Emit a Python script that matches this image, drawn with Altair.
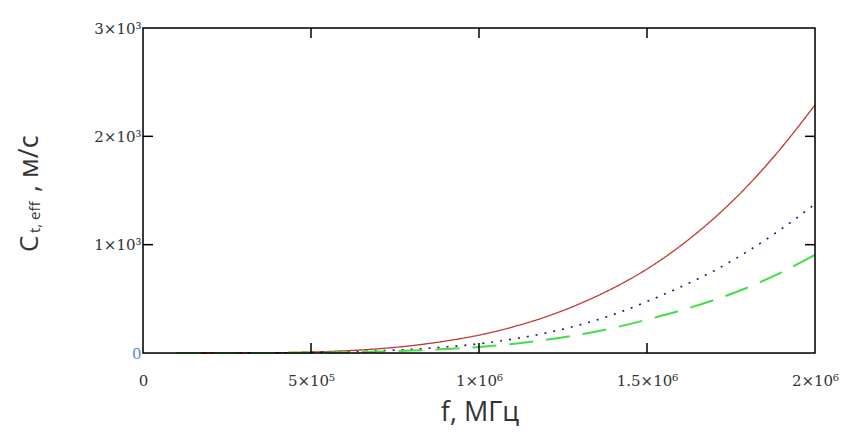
import altair as alt
import pandas as pd

# frequency, Hz
freq = [1e5, 2e5, 3e5, 4e5, 5e5, 6e5, 7e5, 8e5, 9e5, 1.0e6,
        1.1e6, 1.2e6, 1.3e6, 1.4e6, 1.5e6, 1.6e6, 1.7e6, 1.8e6, 1.9e6, 2.0e6]
# C_t,eff, m/s
red_solid = [0, 0.1, 0.8, 3, 9, 20, 39, 68, 110, 165,
             240, 335, 455, 600, 775, 990, 1245, 1545, 1895, 2290]
blue_dotted = [0, 0.05, 0.4, 1.5, 4.5, 10, 20, 34, 56, 85,
               128, 185, 260, 355, 475, 610, 760, 940, 1145, 1375]
green_dashed = [0, 0.03, 0.25, 1, 3, 6.5, 13, 22, 36, 55,
                84, 122, 170, 232, 308, 392, 490, 605, 745, 905]

series_names = ["red", "blue", "green"]
series_colors = ["#c0392f", "#1c1c8c", "#44dd44"]

x_ticks = [0, 5e5, 1e6, 1.5e6, 2e6]
x_tick_labels = ["0", "5×10⁵", "1×10⁶", "1.5×10⁶", "2×10⁶"]
y_ticks = [0, 1000, 2000, 3000]
y_tick_labels = ["0", "1×10³", "2×10³", "3×10³"]
inner_x = [5e5, 1e6, 1.5e6]
inner_y = [1000, 2000]

W, H = 672, 325
TICK_PX = 10

rows = []
for name, vals in zip(series_names, [red_solid, blue_dotted, green_dashed]):
    for f, v in zip(freq, vals):
        rows.append({"f": f, "c": v, "s": name})
df = pd.DataFrame(rows)


def label_expr(ticks, labels):
    expr = "''"
    for t, l in reversed(list(zip(ticks, labels))):
        expr = f"(abs(datum.value - {t:.0f}) < 1e-6 ? '{l}' : {expr})"
    return expr


xscale = alt.Scale(domain=[0, 2e6], nice=False, zero=False)
yscale = alt.Scale(domain=[0, 3000], nice=False)

lines = alt.Chart(df).mark_line(interpolate="monotone").encode(
    x=alt.X("f:Q", scale=xscale,
            axis=alt.Axis(values=x_ticks, labelExpr=label_expr(x_ticks, x_tick_labels),
                          title=None, grid=False, domain=False, ticks=False,
                          labelFont="DejaVu Serif", labelFontSize=15,
                          labelColor="#333", labelPadding=20, labelFlush=False)),
    y=alt.Y("c:Q", scale=yscale,
            axis=alt.Axis(values=y_ticks, labelExpr=label_expr(y_ticks, y_tick_labels),
                          title=None, grid=False, domain=False, ticks=False,
                          labelFont="DejaVu Serif", labelFontSize=15,
                          labelColor={"condition": {"test": "datum.value == 0", "value": "#5a8cc0"},
                                      "value": "#333"},
                          labelPadding=2, labelFlush=False)),
    color=alt.Color("s:N", scale=alt.Scale(domain=series_names, range=series_colors), legend=None),
    strokeDash=alt.StrokeDash("s:N", scale=alt.Scale(domain=series_names,
                                                      range=[[1, 0], [2, 7], [24, 13]]), legend=None),
    strokeWidth=alt.StrokeWidth("s:N", scale=alt.Scale(domain=series_names, range=[1.3, 2, 1.8]),
                                legend=None),
)

# plot frame
frame = alt.Chart(pd.DataFrame({"k": [0]})).mark_rect(
    fillOpacity=0, stroke="black", strokeWidth=1.5
).encode(x=alt.value(0), x2=alt.value(W), y=alt.value(0), y2=alt.value(H))

# inner tick marks
tx = pd.DataFrame({"f": inner_x})
ty = pd.DataFrame({"c": inner_y})
xt_bottom = alt.Chart(tx).mark_rule(color="black", strokeWidth=1.5).encode(
    x=alt.X("f:Q", scale=xscale), y=alt.value(H), y2=alt.value(H - TICK_PX))
xt_top = alt.Chart(tx).mark_rule(color="black", strokeWidth=1.5).encode(
    x=alt.X("f:Q", scale=xscale), y=alt.value(0), y2=alt.value(TICK_PX))
yt_left = alt.Chart(ty).mark_rule(color="black", strokeWidth=1.5).encode(
    y=alt.Y("c:Q", scale=yscale), x=alt.value(0), x2=alt.value(TICK_PX))
yt_right = alt.Chart(ty).mark_rule(color="black", strokeWidth=1.5).encode(
    y=alt.Y("c:Q", scale=yscale), x=alt.value(W), x2=alt.value(W - TICK_PX))

title_font = "Open Sans"
x_title = alt.Chart(pd.DataFrame({"t": ["f, МГц"]})).mark_text(
    font=title_font, fontSize=27, color="#333", align="center", baseline="middle"
).encode(text="t:N", x=alt.value(W / 2 + 1), y=alt.value(385))

yt_c = alt.Chart(pd.DataFrame({"t": ["C"]})).mark_text(
    font=title_font, fontSize=26, color="#333", align="left", baseline="alphabetic", angle=270
).encode(text="t:N", x=alt.value(38 - 143), y=alt.value(252 - 28))
yt_sub = alt.Chart(pd.DataFrame({"t": ["t, eff"]})).mark_text(
    font=title_font, fontSize=15, color="#333", align="left", baseline="alphabetic", angle=270
).encode(text="t:N", x=alt.value(40 - 143), y=alt.value(233 - 28))
yt_rest = alt.Chart(pd.DataFrame({"t": [", м/с"]})).mark_text(
    font=title_font, fontSize=27, color="#333", align="left", baseline="alphabetic", angle=270
).encode(text="t:N", x=alt.value(38 - 143), y=alt.value(192 - 28))

chart = alt.layer(lines, frame, xt_bottom, xt_top, yt_left, yt_right,
                  x_title, yt_c, yt_sub, yt_rest).properties(
    width=W, height=H,
    autosize=alt.AutoSizeParams(type="none"),
    padding={"left": 135, "top": 20, "right": 26, "bottom": 78},
).configure(background="white")

chart.save("out.html", embed_options={"renderer": "svg", "actions": False})
